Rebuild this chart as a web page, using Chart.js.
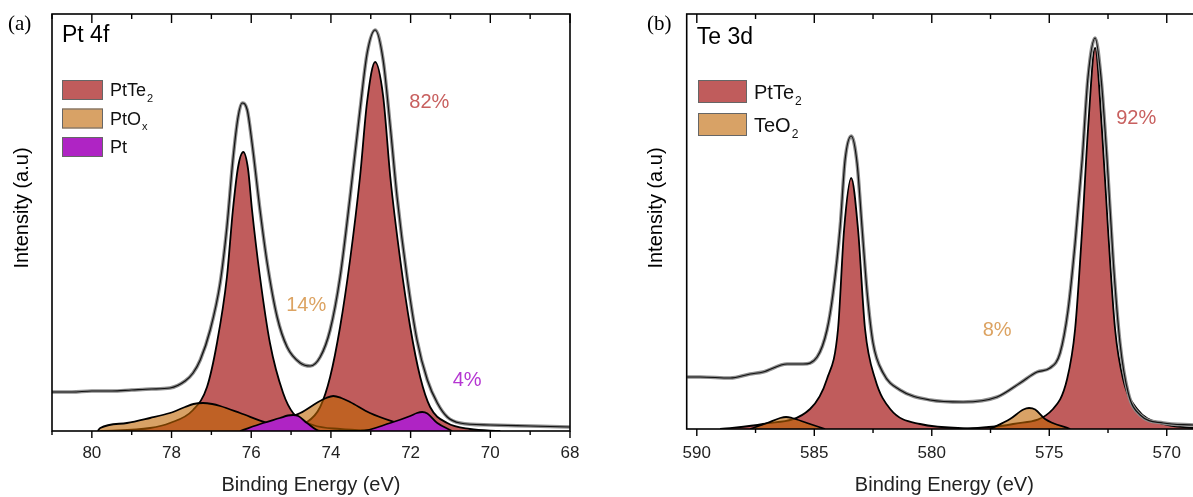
<!DOCTYPE html>
<html>
<head>
<meta charset="utf-8">
<script src="https://cdn.jsdelivr.net/npm/chart.js@4.4.0/dist/chart.umd.min.js"></script>
<style>
  html, body { margin: 0; padding: 0; background: #fff; overflow: hidden; }
  body { width: 1193px; height: 497px; position: relative; }
  canvas { position: absolute; top: 0; }
  #chart-a { left: 0; }
  #chart-b { left: 630px; }
</style>
</head>
<body>
<canvas id="chart-a" width="600" height="497"></canvas>
<canvas id="chart-b" width="600" height="497"></canvas>
<script>
// ---- (a) Pt 4f ----
var ptTicks = [80, 78, 76, 74, 72, 70, 68];
var ptMinor = [81, 79, 77, 75, 73, 71, 69];

var ptEnvE = [81.0, 80.5, 80.0, 79.5, 79.0, 78.5, 78.04, 77.66, 77.46, 77.28, 77.03, 76.78, 76.61, 76.46, 76.33, 76.23, 76.10, 75.98, 75.78, 75.60, 75.35, 75.10, 74.77, 74.52, 74.27, 74.02, 73.77, 73.52, 73.27, 73.09, 72.89, 72.69, 72.51, 72.34, 72.09, 71.84, 71.58, 71.33, 71.08, 70.76, 70.0, 69.0, 68.0];
var ptEnvI = [39, 39, 40, 40, 41, 42, 43, 50, 58, 71, 101, 148, 204, 271, 314, 328, 321, 288, 221, 168, 114, 84, 68, 65, 74, 101, 154, 234, 321, 378, 401, 371, 304, 234, 154, 91, 51, 28, 14, 8, 6, 5, 4];

var ptTe2aE = [79.79, 78.54, 78.04, 77.46, 77.11, 76.86, 76.61, 76.46, 76.33, 76.20, 76.08, 75.98, 75.78, 75.53, 75.20, 74.95, 74.45, 73.77, 72.77];
var ptTe2aI = [0, 3, 8, 21, 44, 88, 154, 221, 264, 279, 262, 221, 154, 88, 38, 18, 6, 2, 0];
var ptTe2bE = [76.28, 75.28, 74.60, 74.27, 74.02, 73.77, 73.52, 73.27, 73.09, 72.89, 72.69, 72.51, 72.26, 72.01, 71.76, 71.51, 71.08, 70.51, 69.75];
var ptTe2bI = [0, 3, 9, 24, 54, 104, 171, 254, 330, 369, 335, 254, 171, 104, 54, 24, 8, 2, 0];

var ptOxaE = [79.85, 79.79, 79.12, 78.54, 78.04, 77.66, 77.45, 77.21, 76.98, 76.78, 76.28, 75.60, 74.95, 74.52];
var ptOxaI = [0, 3, 8, 13, 18, 24, 27, 28, 27, 25, 18, 8, 2, 0];
var ptOxbE = [76.03, 75.45, 74.77, 74.32, 74.12, 73.94, 73.74, 73.52, 73.02, 72.34, 71.76, 71.51];
var ptOxbI = [0, 8, 18, 29, 33, 35, 33, 29, 18, 8, 1, 0];

var ptMetE = [76.28, 75.70, 75.28, 75.08, 74.95, 74.82, 74.60, 74.27, 73.27, 72.51, 72.01, 71.84, 71.71, 71.58, 71.33, 70.96];
var ptMetI = [0, 8, 13, 15.5, 16, 15, 8, 0, 0, 8, 15, 18, 19, 17.5, 8, 0];

var ptLegendNames = ['PtTe', 'PtO', 'Pt'];
var ptLegendSubs = ['2', 'x', ''];
var ptPctText = ['82%', '14%', '4%'];
var ptPctE = [71.53, 74.62, 70.58];
var ptPctI = [329, 126, 51];

// ---- (b) Te 3d ----
var teTicks = [590, 585, 580, 575, 570];
var teMinor = [587.5, 582.5, 577.5, 572.5];

var teEnvE = [590.41, 589.86, 588.58, 587.73, 587.18, 586.16, 585.48, 584.88, 584.46, 584.20, 583.90, 583.69, 583.43, 583.18, 582.97, 582.75, 582.50, 582.07, 581.35, 580.07, 578.67, 577.22, 576.24, 575.52, 574.97, 574.54, 574.20, 573.90, 573.60, 573.35, 573.05, 572.80, 572.54, 572.28, 571.99, 571.64, 571.13, 570.15, 568.87];
var teEnvI = [52, 52, 51, 55, 57, 65, 65, 72, 99, 136, 202, 269, 293, 266, 202, 136, 86, 56, 39, 29, 27, 32, 46, 57, 61, 76, 119, 186, 269, 352, 391, 352, 269, 169, 86, 36, 14, 6, 4];

var teTe2aE = [589.01, 587.18, 585.18, 584.46, 583.99, 583.73, 583.43, 583.14, 582.84, 582.41, 581.77, 580.50, 577.94];
var teTe2aI = [0, 5, 20, 50, 100, 200, 251, 200, 100, 50, 20, 5, 0];
var teTe2bE = [578.79, 576.54, 574.84, 574.24, 573.90, 573.60, 573.35, 573.05, 572.76, 572.50, 572.20, 571.86, 571.26, 570.15, 568.87];
var teTe2bI = [0, 5, 20, 50, 100, 200, 300, 381, 300, 200, 100, 50, 20, 5, 1];

var teOxaE = [587.73, 587.01, 586.45, 586.20, 585.95, 585.31, 584.54];
var teOxaI = [0, 6, 11, 12, 11, 6, 0];
var teOxbE = [577.52, 576.67, 576.10, 575.86, 575.60, 575.18, 574.11];
var teOxbI = [0, 10, 19.5, 21, 19.5, 10, 0];

var teLegendNames = ['PtTe', 'TeO'];
var teLegendSubs = ['2', '2'];
var tePctText = ['92%', '8%'];
var tePctE = [571.30, 577.22];
var tePctI = [311, 99];

// colours
var RED = '#C05C5C';
var ORANGE = 'rgba(190,100,0,0.6)';
var PURPLE = '#AF24C4';

Chart.defaults.font.family = '"Liberation Sans", Arial, sans-serif';
Chart.defaults.color = '#111';

function pts(xs, ys) {
  return xs.map(function (x, i) { return { x: x, y: ys[i] }; });
}

function comp(label, xs, ys, color, order) {
  return {
    label: label,
    data: pts(xs, ys),
    borderColor: '#000',
    borderWidth: 1.8,
    backgroundColor: color,
    fill: 'origin',
    pointRadius: 0,
    cubicInterpolationMode: 'monotone',
    order: order
  };
}

function envelope(xs, ys) {
  return [
    { label: 'data', data: pts(xs, ys), borderColor: '#111', borderWidth: 1.2, fill: false,
      pointRadius: 0, cubicInterpolationMode: 'monotone', order: 1 },
    { label: 'fit', data: pts(xs, ys), borderColor: '#8e8e8e', borderWidth: 3.5, fill: false,
      pointRadius: 0, cubicInterpolationMode: 'monotone', order: 2 }
  ];
}

// frame, ticks, legend and labels
var decor = {
  id: 'decor',
  afterDraw: function (chart, args, o) {
    var ctx = chart.ctx, a = chart.chartArea, xs = chart.scales.x, ys = chart.scales.y;
    ctx.save();
    ctx.strokeStyle = '#000';
    ctx.lineWidth = 1.6;
    ctx.strokeRect(a.left, a.top, a.right - a.left, a.bottom - a.top);

    function tick(v, out, inn) {
      var x = xs.getPixelForValue(v);
      ctx.beginPath();
      ctx.moveTo(x, a.bottom); ctx.lineTo(x, a.bottom + out);
      ctx.moveTo(x, a.top); ctx.lineTo(x, a.top + inn);
      ctx.stroke();
    }
    ctx.lineWidth = 1.4;
    o.major.forEach(function (v) { tick(v, 7, 9); });
    o.minor.forEach(function (v) { tick(v, 4, 5); });

    // panel letter
    ctx.fillStyle = '#000';
    ctx.textBaseline = 'alphabetic';
    ctx.textAlign = 'left';
    ctx.font = '21px "Liberation Serif", "Times New Roman", serif';
    ctx.fillText(o.letter, o.letterX, 30);

    // element title
    ctx.font = '23px "Liberation Sans", Arial, sans-serif';
    ctx.fillText(o.title, a.left + 10, o.titleY);

    // y title
    ctx.save();
    ctx.translate(o.yTitleX, 208);
    ctx.rotate(-Math.PI / 2);
    ctx.textAlign = 'center';
    ctx.textBaseline = 'middle';
    ctx.font = '20px "Liberation Sans", Arial, sans-serif';
    ctx.fillText('Intensity (a.u)', 0, 0);
    ctx.restore();

    // legend
    var L = o.legend;
    L.names.forEach(function (name, i) {
      var y = L.top + i * L.step;
      ctx.fillStyle = '#fff';
      ctx.fillRect(L.x, y, L.w, L.h);
      ctx.fillStyle = L.colors[i];
      ctx.fillRect(L.x, y, L.w, L.h);
      ctx.strokeStyle = '#666';
      ctx.lineWidth = 1;
      ctx.strokeRect(L.x + 0.5, y + 0.5, L.w - 1, L.h - 1);
      ctx.fillStyle = '#111';
      ctx.font = L.size + 'px "Liberation Sans", Arial, sans-serif';
      var base = y + L.h / 2 + L.size * 0.36;
      ctx.fillText(name, L.x + L.w + 7, base);
      if (L.subs[i]) {
        var w = ctx.measureText(name).width;
        ctx.font = Math.round(L.size * 0.6) + 'px "Liberation Sans", Arial, sans-serif';
        ctx.fillText(L.subs[i], L.x + L.w + 8 + w, base + L.size * 0.3);
      }
    });

    // percentages
    ctx.textAlign = 'center';
    ctx.textBaseline = 'middle';
    ctx.font = '20px "Liberation Sans", Arial, sans-serif';
    o.pct.text.forEach(function (t, i) {
      ctx.fillStyle = o.pct.colors[i];
      ctx.fillText(t, xs.getPixelForValue(o.pct.e[i]), ys.getPixelForValue(o.pct.v[i]));
    });
    ctx.restore();
  }
};

function makeChart(id, p) {
  return new Chart(document.getElementById(id).getContext('2d'), {
    type: 'line',
    data: { datasets: p.datasets },
    plugins: [decor],
    options: {
      responsive: false,
      animation: false,
      events: [],
      layout: { autoPadding: false, padding: p.padding },
      scales: {
        x: {
          type: 'linear',
          reverse: true,
          min: p.min,
          max: p.max,
          afterFit: function (s) { s.height = p.axisH; },
          afterBuildTicks: function (s) { s.ticks = p.major.map(function (v) { return { value: v }; }); },
          grid: { display: false, drawTicks: false },
          border: { display: false },
          ticks: {
            padding: p.tickPad,
            maxRotation: 0,
            autoSkip: false,
            font: { size: 17 },
            color: '#222',
            callback: function (v) { return String(v); }
          },
          title: {
            display: true,
            text: 'Binding Energy (eV)',
            font: { size: 20 },
            color: '#222',
            padding: { top: 0, bottom: 0 }
          }
        },
        y: { display: false, min: 0, max: p.yMax }
      },
      plugins: {
        legend: { display: false },
        tooltip: { enabled: false },
        decor: p.decor
      }
    }
  });
}

makeChart('chart-a', {
  datasets: envelope(ptEnvE, ptEnvI).concat([
    comp('Pt', ptMetE, ptMetI, PURPLE, 3),
    comp('PtOx', ptOxaE, ptOxaI, ORANGE, 4),
    comp('PtOx', ptOxbE, ptOxbI, ORANGE, 5),
    comp('PtTe2', ptTe2aE, ptTe2aI, RED, 6),
    comp('PtTe2', ptTe2bE, ptTe2bI, RED, 7)
  ]),
  padding: { left: 52, right: 30, top: 14, bottom: 0 },
  axisH: 66, tickPad: 12,
  min: 68, max: 81, yMax: 417,
  major: ptTicks,
  decor: {
    major: ptTicks, minor: ptMinor,
    letter: '(a)', letterX: 8,
    title: 'Pt 4f', titleY: 42,
    yTitleX: 22,
    legend: { names: ptLegendNames, subs: ptLegendSubs, colors: [RED, ORANGE, PURPLE],
              x: 62, top: 80, step: 28.5, w: 41, h: 20, size: 18 },
    pct: { text: ptPctText, e: ptPctE, v: ptPctI, colors: ['#C8605F', '#DCA362', '#B536D2'] }
  }
});

makeChart('chart-b', {
  datasets: envelope(teEnvE, teEnvI).concat([
    comp('TeO2', teOxaE, teOxaI, ORANGE, 4),
    comp('TeO2', teOxbE, teOxbI, ORANGE, 5),
    comp('PtTe2', teTe2aE, teTe2aI, RED, 6),
    comp('PtTe2', teTe2bE, teTe2bI, RED, 7)
  ]),
  padding: { left: 56.7, right: 28, top: 14, bottom: 0 },
  axisH: 68, tickPad: 14,
  min: 568.5, max: 590.43, yMax: 415,
  major: teTicks,
  decor: {
    major: teTicks, minor: teMinor,
    letter: '(b)', letterX: 17,
    title: 'Te 3d', titleY: 44,
    yTitleX: 26,
    legend: { names: teLegendNames, subs: teLegendSubs, colors: [RED, ORANGE],
              x: 68, top: 80, step: 33, w: 49, h: 23, size: 20 },
    pct: { text: tePctText, e: tePctE, v: tePctI, colors: ['#C8605F', '#DCA362'] }
  }
});
</script>
</body>
</html>
